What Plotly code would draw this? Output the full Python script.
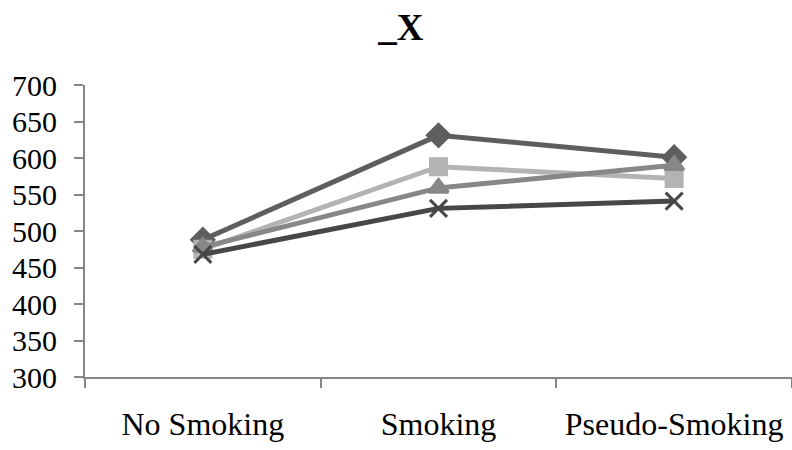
import plotly.graph_objects as go

categories = ["No Smoking", "Smoking", "Pseudo-Smoking"]
series_a = [488, 631, 601]   # diamond
series_b = [475, 588, 572]   # square
series_c = [478, 559, 590]   # triangle
series_d = [468, 531, 541]   # x
y_ticks = [300, 350, 400, 450, 500, 550, 600, 650, 700]

styles = [
    (series_a, "#5e5e5e", "diamond", 17),
    (series_b, "#b3b3b3", "square", 16),
    (series_c, "#878787", "triangle-up", 17),
    (series_d, "#474747", "x-thin-open", 17),
]

fig = go.Figure()
for vals, col, sym, sz in styles:
    fig.add_trace(go.Scatter(
        x=categories, y=vals, mode="lines+markers",
        line=dict(color=col, width=5),
        marker=dict(symbol=sym, size=sz, color=col,
                    line=dict(color=col, width=3)),
        showlegend=False,
    ))

font = "Liberation Serif, Times New Roman, serif"
fig.update_layout(
    width=792, height=450,
    margin=dict(l=85, r=0, t=85, b=73),
    paper_bgcolor="white", plot_bgcolor="white",
    font=dict(family=font, size=32, color="black"),
    title=dict(text="<b>_X</b>", font=dict(family=font, size=37, color="black"),
               x=0.506, xref="container", xanchor="center",
               y=1 - 27 / 450, yref="container", yanchor="middle"),
)
fig.update_xaxes(
    type="category", range=[-0.5, 2.5], tickson="boundaries",
    showline=True, linecolor="#868686", linewidth=2,
    ticks="outside", ticklen=9, tickcolor="#868686", tickwidth=2,
    showgrid=False, zeroline=False, ticklabelstandoff=18, automargin=False,
)
fig.update_yaxes(
    range=[300, 700], tickvals=y_ticks, ticktext=[str(v) for v in y_ticks],
    tickfont=dict(size=30),
    showline=True, linecolor="#868686", linewidth=2,
    ticks="outside", ticklen=9, tickcolor="#868686", tickwidth=2,
    showgrid=False, zeroline=False, ticklabelstandoff=11, automargin=False,
)
fig.write_html(
    "out.html",
    config={"displayModeBar": False},
    post_script="document.body.style.margin='0px';document.body.style.overflow='hidden';",
)
